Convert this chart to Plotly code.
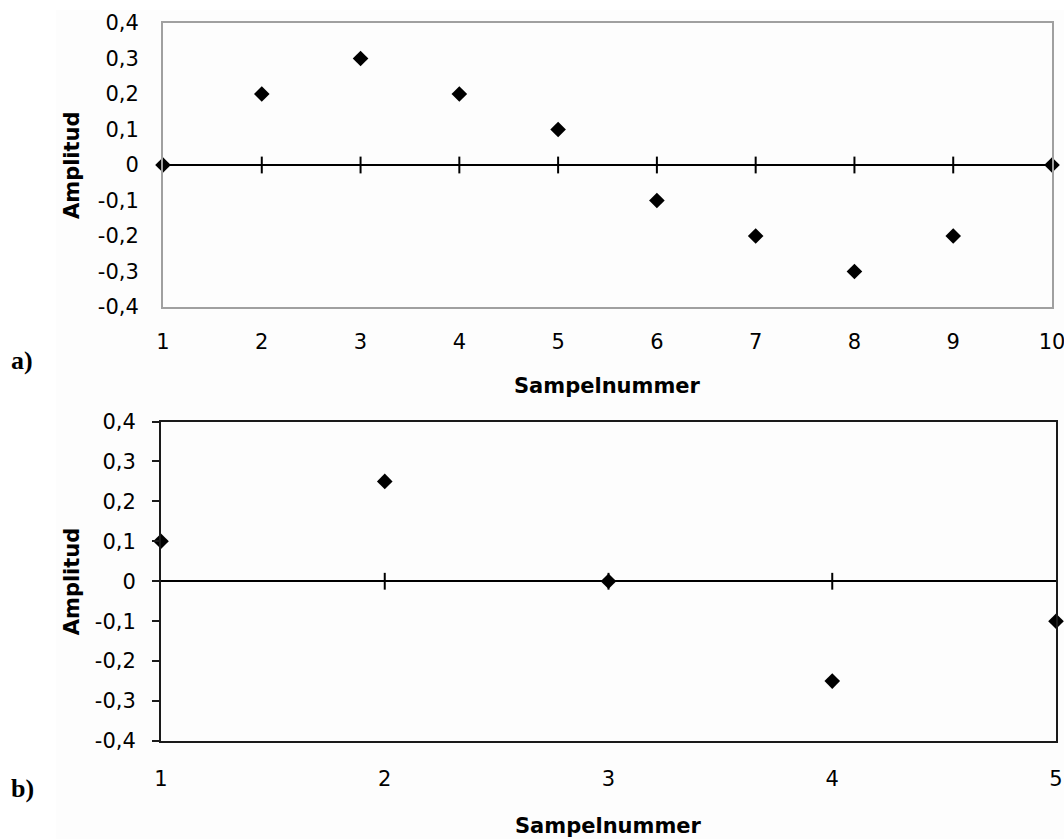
import plotly.graph_objects as go

# Panel a): ten samples
samples_a = [1, 2, 3, 4, 5, 6, 7, 8, 9, 10]
amp_a = [0, 0.2, 0.3, 0.2, 0.1, -0.1, -0.2, -0.3, -0.2, 0]

# Panel b): five samples
samples_b = [1, 2, 3, 4, 5]
amp_b = [0.1, 0.25, 0, -0.25, -0.1]

y_ticks = [-0.4, -0.3, -0.2, -0.1, 0, 0.1, 0.2, 0.3, 0.4]
y_tick_text = ["-0,4", "-0,3", "-0,2", "-0,1", "0", "0,1", "0,2", "0,3", "0,4"]

x_title = "Sampelnummer"
y_title = "Amplitud"
panel_labels = ["a)", "b)"]

W, H = 1064, 839
TICK_FONT = dict(family="DejaVu Sans", size=21, color="black")
TITLE_FONT = dict(family="DejaVu Sans", size=21, color="black")
PANEL_FONT = dict(family="Liberation Serif", size=26, color="black")


def px_x(v):
    return v / W


def px_y(v):
    return 1 - v / H


dom_a_x = [px_x(163), px_x(1052)]
dom_a_y = [px_y(307), px_y(23)]
dom_b_x = [px_x(161), px_x(1056)]
dom_b_y = [px_y(741), px_y(421.5)]

fig = go.Figure()

marker_style = dict(symbol="diamond", size=12, color="black")
cross_tick = dict(symbol="line-ns", size=12, line=dict(width=2, color="black"))

# data points
fig.add_trace(go.Scatter(x=samples_a, y=amp_a, mode="markers", marker=marker_style,
                         cliponaxis=False, xaxis="x", yaxis="y", hoverinfo="skip"))
fig.add_trace(go.Scatter(x=samples_b, y=amp_b, mode="markers", marker=marker_style,
                         cliponaxis=False, xaxis="x2", yaxis="y2", hoverinfo="skip"))

# tick marks crossing the zero line
fig.add_trace(go.Scatter(x=samples_a[1:-1], y=[0] * len(samples_a[1:-1]), mode="markers",
                         marker=cross_tick, xaxis="x", yaxis="y", hoverinfo="skip"))
fig.add_trace(go.Scatter(x=samples_b[1:-1], y=[0] * len(samples_b[1:-1]), mode="markers",
                         marker=cross_tick, xaxis="x2", yaxis="y2", hoverinfo="skip"))

frame_a = "#a0a0a0"
frame_b = "#1a1a1a"

common_axis = dict(showgrid=False, fixedrange=True, automargin=False,
                   tickfont=TICK_FONT, ticklabeloverflow="allow")

fig.update_layout(
    width=W, height=H,
    margin=dict(l=0, r=0, t=0, b=0, autoexpand=False),
    paper_bgcolor="white",
    plot_bgcolor="white",
    showlegend=False,
    xaxis=dict(domain=dom_a_x, anchor="y", range=[1, 10], tickvals=samples_a,
               zeroline=False, showline=True, linecolor=frame_a,
               linewidth=2, mirror=True, ticks="", ticklabelstandoff=15,
               **common_axis),
    yaxis=dict(domain=dom_a_y, anchor="x", range=[-0.4, 0.4], tickvals=y_ticks,
               ticktext=y_tick_text, zeroline=True,
               zerolinecolor="black", zerolinewidth=2, showline=True,
               linecolor=frame_a, linewidth=2, mirror=True, ticks="",
               ticklabelstandoff=18, **common_axis),
    xaxis2=dict(domain=dom_b_x, anchor="y2", range=[1, 5], tickvals=samples_b,
                zeroline=False, showline=True, linecolor=frame_b,
                linewidth=2, mirror=True, ticks="", ticklabelstandoff=18,
                **common_axis),
    yaxis2=dict(domain=dom_b_y, anchor="x2", range=[-0.4, 0.4], tickvals=y_ticks,
                ticktext=y_tick_text, zeroline=True,
                zerolinecolor="black", zerolinewidth=2, showline=True,
                linecolor=frame_b, linewidth=2, mirror=True, ticks="outside",
                ticklen=7, tickwidth=2, tickcolor=frame_b, ticklabelstandoff=12,
                **common_axis),
)

# faint chart-area background
fig.add_shape(type="rect", xref="paper", yref="paper", x0=px_x(56), x1=1,
              y0=0, y1=px_y(10), fillcolor="#fdfdfd", line=dict(width=0),
              layer="below")

annotations = [
    dict(text=f"<b>{x_title}</b>", x=sum(dom_a_x) / 2, y=px_y(386), font=TITLE_FONT),
    dict(text=f"<b>{x_title}</b>", x=sum(dom_b_x) / 2, y=px_y(826), font=TITLE_FONT),
    dict(text=f"<b>{y_title}</b>", x=px_x(72), y=sum(dom_a_y) / 2, textangle=-90,
         font=TITLE_FONT),
    dict(text=f"<b>{y_title}</b>", x=px_x(72), y=sum(dom_b_y) / 2, textangle=-90,
         font=TITLE_FONT),
    dict(text=f"<b>{panel_labels[0]}</b>", x=px_x(22), y=px_y(360), font=PANEL_FONT),
    dict(text=f"<b>{panel_labels[1]}</b>", x=px_x(22), y=px_y(788), font=PANEL_FONT),
]
for a in annotations:
    fig.add_annotation(xref="paper", yref="paper", showarrow=False,
                       xanchor="center", yanchor="middle", **a)

fig.write_html("out.html")
